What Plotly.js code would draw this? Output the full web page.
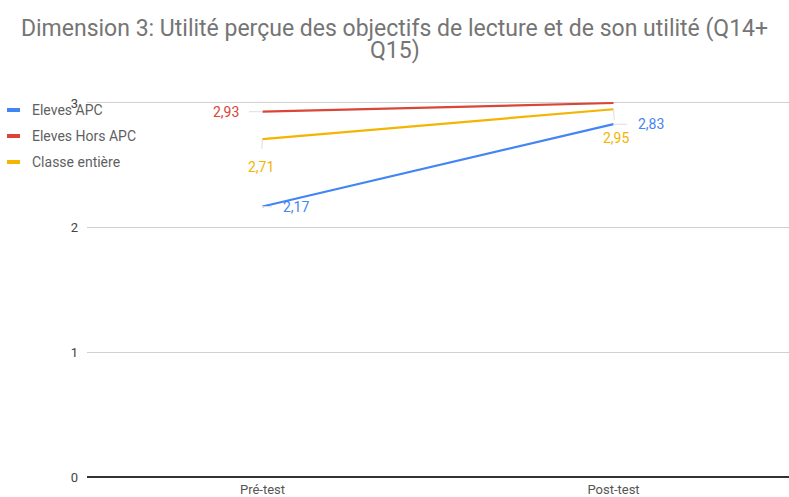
<!DOCTYPE html>
<html><head><meta charset="utf-8">
<script src="https://cdn.plot.ly/plotly-3.0.1.min.js"></script>
<style>html,body{margin:0;padding:0;background:#fff}#chart{width:789px;height:497px}</style>
</head><body><div id="chart"></div>
<script>
const categories = ['Pré-test', 'Post-test'];
const seriesNames = ['Eleves APC', 'Eleves Hors APC', 'Classe entière'];
const elevesAPC = [2.17, 2.83];
const elevesHorsAPC = [2.93, 3.00];
const classeEntiere = [2.71, 2.95];
const yTicks = [0, 1, 2, 3];
const titleLine1 = 'Dimension 3: Utilité perçue des objectifs de lecture et de son utilité (Q14+';
const titleLine2 = 'Q15)';

const colors = ['#4285F4', '#DB4437', '#F4B400'];
const allSeries = [elevesAPC, elevesHorsAPC, classeEntiere];

const W = 789, H = 497;
const M = {l: 87, r: 0, t: 100, b: 20};
const pw = W - M.l - M.r, ph = H - M.t - M.b;
const px2x = px => (px - M.l) / pw;
const py2y = py => (H - M.b - py) / ph;

const traces = allSeries.map((vals, i) => ({
  type: 'scatter', mode: 'lines', x: categories, y: vals, name: seriesNames[i],
  line: {color: colors[i], width: 2.2}, cliponaxis: false, hoverinfo: 'none',
  showlegend: false
}));

// label placement (pixel offsets of text from point); null = no label
const labelOffsets = [
  [[33, 1], [37, 0]],
  [[-37, 0], null],
  [[-2, 28], [2, 29]]
];
const fmt = v => v.toFixed(2).replace('.', ',');
const annotations = [];
const shapes = [];
allSeries.forEach((vals, i) => {
  vals.forEach((v, j) => {
    const off = labelOffsets[i][j];
    if (!off) return;
    annotations.push({
      x: categories[j], y: v, xref: 'x', yref: 'y', text: fmt(v),
      showarrow: true, arrowhead: 0, arrowwidth: 1, arrowcolor: '#dddddd',
      ax: off[0], ay: off[1], standoff: 0, startstandoff: 9,
      font: {family: 'Roboto, sans-serif', size: 14, color: colors[i]}
    });
  });
});

// custom legend (short thick swatches like the reference)
const legendY = [110, 136, 162];
seriesNames.forEach((name, i) => {
  shapes.push({
    type: 'line', xref: 'paper', yref: 'paper',
    x0: px2x(7), x1: px2x(20), y0: py2y(legendY[i]), y1: py2y(legendY[i]),
    line: {color: colors[i], width: 4}
  });
  annotations.push({
    xref: 'paper', yref: 'paper', x: px2x(30), y: py2y(legendY[i]),
    xanchor: 'left', yanchor: 'middle', showarrow: false, text: name,
    font: {family: 'Roboto, sans-serif', size: 14, color: '#5f5f5f'}
  });
});

// second title line (tighter line spacing than Plotly's <br>)
annotations.push({
  xref: 'paper', yref: 'paper', x: px2x(W / 2), y: py2y(51),
  xanchor: 'center', yanchor: 'middle', showarrow: false, text: titleLine2,
  font: {family: 'Roboto, sans-serif', size: 23, color: '#757575'}
});

const layout = {
  width: W, height: H,
  margin: M,
  paper_bgcolor: '#fff', plot_bgcolor: '#fff',
  title: {
    text: titleLine1,
    font: {family: 'Roboto, sans-serif', size: 23, color: '#757575'},
    x: 0.5, xanchor: 'center', xref: 'container',
    y: 1 - 28 / H, yanchor: 'middle', yref: 'container'
  },
  showlegend: false,
  xaxis: {
    type: 'category', range: [-0.5, 1.5], showgrid: false, zeroline: false,
    showline: false, ticks: '', ticklabelstandoff: 3,
    tickfont: {family: 'Roboto, sans-serif', size: 13, color: '#555'}
  },
  yaxis: {
    range: [0, 3.024], tickvals: yTicks, ticktext: yTicks.map(String),
    showgrid: true, gridcolor: '#d0d0d0', gridwidth: 1,
    zeroline: true, zerolinecolor: '#333', zerolinewidth: 1.6,
    showline: false, ticks: '', ticklabelstandoff: 8,
    tickfont: {family: 'Roboto, sans-serif', size: 13, color: '#444'}
  },
  shapes: shapes,
  annotations: annotations
};

Plotly.newPlot('chart', traces, layout, {displayModeBar: false, staticPlot: true});
</script></body></html>
